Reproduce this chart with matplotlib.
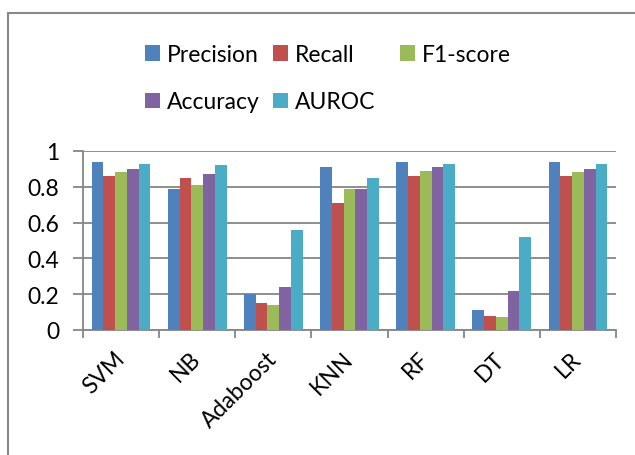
import matplotlib
matplotlib.use("Agg")
import matplotlib.pyplot as plt
from matplotlib.patches import Rectangle
import numpy as np

plt.rcParams['font.family'] = ['Lato', 'DejaVu Sans']

models = ['SVM', 'NB', 'Adaboost', 'KNN', 'RF', 'DT', 'LR']
precision = [0.94, 0.79, 0.20, 0.91, 0.94, 0.11, 0.94]
recall = [0.86, 0.85, 0.15, 0.71, 0.86, 0.08, 0.86]
f1_score = [0.88, 0.81, 0.14, 0.79, 0.89, 0.07, 0.88]
accuracy = [0.90, 0.87, 0.24, 0.79, 0.91, 0.22, 0.90]
auroc = [0.93, 0.92, 0.56, 0.85, 0.93, 0.52, 0.93]

series = [('Precision', precision, '#4F81BD'),
          ('Recall', recall, '#C0504D'),
          ('F1-score', f1_score, '#9BBB59'),
          ('Accuracy', accuracy, '#8064A2'),
          ('AUROC', auroc, '#4BACC6')]

W, H = 635, 456
fs = 16.5
fig = plt.figure(figsize=(W / 100, H / 100), dpi=100)
ax = fig.add_axes([83 / W, 1 - 331 / H, (616 - 83) / W, (331 - 152) / H])

x = np.arange(len(models))
bw = 0.154
handles = []
for i, (name, vals, col) in enumerate(series):
    b = ax.bar(x + (i - 2) * bw, vals, bw, color=col, label=name, zorder=3)
    handles.append(b)

grey = '#868686'
ax.set_xlim(-0.5, len(models) - 0.5)
ax.set_ylim(0, 1)
ax.set_yticks([0, 0.2, 0.4, 0.6, 0.8, 1.0])
ax.set_yticklabels(['0', '0.2', '0.4', '0.6', '0.8', '1'], fontsize=fs)
ax.yaxis.grid(True, color=grey, linewidth=1.3, zorder=0)
ax.tick_params(axis='y', length=7, color=grey, width=1.3, pad=10)

ax.set_xticks(np.arange(len(models) + 1) - 0.5)
ax.set_xticklabels([])
ax.set_xticks(x, minor=True)
ax.set_xticklabels(models, minor=True, rotation=45, ha='right', va='center',
                   rotation_mode='anchor', fontsize=fs)
ax.tick_params(axis='x', which='major', length=6, color=grey, width=1.3)
ax.tick_params(axis='x', which='minor', length=0, pad=18)

for s in ['top', 'right']:
    ax.spines[s].set_visible(False)
for s in ['bottom', 'left']:
    ax.spines[s].set_color(grey)
    ax.spines[s].set_linewidth(1.3)

# legend in three columns placed like the original
cols = [[0, 3], [1, 4], [2]]
xs = [145, 273, 400]
for idx, xp in zip(cols, xs):
    fig.legend([handles[k] for k in idx], [series[k][0] for k in idx],
               loc='upper left', bbox_to_anchor=(xp / W, 1 - 45 / H),
               frameon=False, fontsize=fs, handlelength=0.65,
               handleheight=0.65, handletextpad=0.3, borderpad=0,
               borderaxespad=0, labelspacing=1.15)

# outer chart frame
fig.patches.append(Rectangle((8 / W, -0.5), 2, 0.5 + 1 - 13.5 / H,
                             transform=fig.transFigure, fill=False,
                             edgecolor='#878787', linewidth=1.5))

fig.savefig('out.png', dpi=100)
